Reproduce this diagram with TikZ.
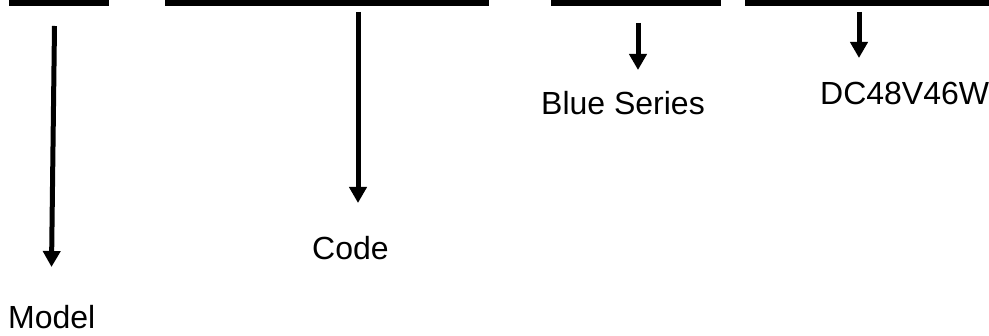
\documentclass[tikz,border=0pt]{standalone}
\usepackage{fontspec}
\setmainfont{Liberation Sans}
\usetikzlibrary{arrows.meta}
\begin{document}
\begin{tikzpicture}[x=1pt,y=-1pt,
  bar/.style={fill=black,draw=none,inner sep=0pt,minimum height=6pt,anchor=north west},
  lbl/.style={inner sep=0pt,anchor=base west,font=\fontsize{32}{38}\selectfont},
  arr/.style={line width=5pt,-{Triangle[width=17pt,length=16pt]}}]
\useasboundingbox (0,0) rectangle (989,336);
\node[bar,minimum width=100pt] (b1) at (9,0) {};
\node[bar,minimum width=324pt] (b2) at (165,0) {};
\node[bar,minimum width=170pt] (b3) at (551,0) {};
\node[bar,minimum width=244pt] (b4) at (745,0) {};
\coordinate (s1) at (54.5,26);  \coordinate (e1) at (51.5,267);
\coordinate (s2) at (358,12);   \coordinate (e2) at (358,203);
\coordinate (s3) at (638,23);   \coordinate (e3) at (638,70);
\coordinate (s4) at (859,12);   \coordinate (e4) at (859,58);
\draw[arr] (s1) -- (e1);
\draw[arr] (s2) -- (e2);
\draw[arr] (s3) -- (e3);
\draw[arr] (s4) -- (e4);
\node[lbl] (model) at (8,329) {Model};
\node[lbl] (code) at (312,260) {Code};
\node[lbl] (blue) at (541,115) {Blue Series};
\node[lbl] (dc) at (820,105) {DC48V46W};
\end{tikzpicture}
\end{document}
